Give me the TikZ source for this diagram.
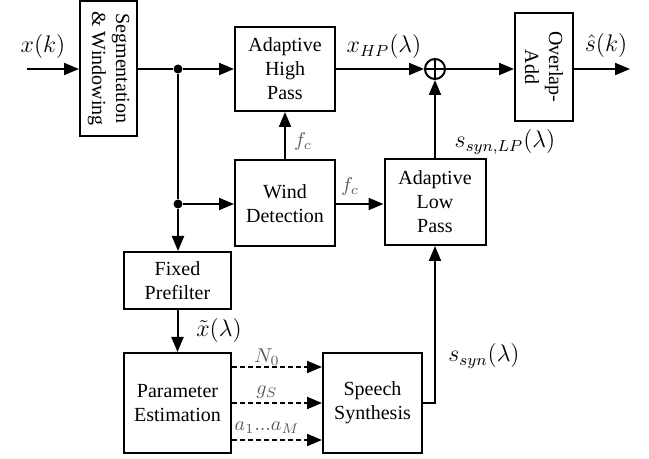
\documentclass[tikz,border=0pt]{standalone}
\usepackage{fontspec}
\setmainfont{Liberation Serif}
\usetikzlibrary{arrows.meta}
\definecolor{lblgray}{gray}{0.35}
\begin{document}
\begin{tikzpicture}[x=0.5pt,y=-0.5pt,
  blk/.style={draw, line width=1pt, inner sep=0pt, align=center, font=\normalsize},
  sig/.style={line width=1pt, -{Triangle[length=7.5pt,width=6pt]}},
  wire/.style={line width=1pt},
  dsig/.style={line width=1pt, dash pattern=on 2.5pt off 1.5pt, -{Triangle[length=7.5pt,width=6pt]}},
  big/.style={font=\large, inner sep=0.5pt},
  small/.style={font=\normalsize, text=lblgray, inner sep=0.5pt},
  dot/.style={circle, fill, inner sep=0pt, minimum size=4.5pt}]
\useasboundingbox (0,0) rectangle (649,459);

\node[blk, minimum width=28.5pt, minimum height=67.5pt] (seg) at (108.5,68.5) {};
\node[rotate=-90, align=center, font=\normalsize, inner sep=0pt] (segtxt) at (seg.center) {Segmentation\\\& Windowing};
\node[blk, minimum width=50pt, minimum height=42pt] (hp) at (285,69) {Adaptive\\High\\Pass};
\node[blk, minimum width=50pt, minimum height=43pt] (wind) at (285,203.5) {Wind\\Detection};
\node[blk, minimum width=50.5pt, minimum height=43pt] (lp) at (435,202) {Adaptive\\Low\\Pass};
\node[blk, minimum width=29pt, minimum height=54pt] (ola) at (544,67) {};
\node[rotate=-90, align=center, font=\normalsize, inner sep=0pt] (olatxt) at (ola.center) {Overlap-\\Add};
\node[blk, minimum width=53.5pt, minimum height=28.5pt] (pre) at (177.5,280.5) {Fixed\\Prefilter};
\node[blk, minimum width=53.5pt, minimum height=50pt] (par) at (177.5,403) {Parameter\\Estimation};
\node[blk, minimum width=49.5pt, minimum height=50pt] (syn) at (372.5,403) {Speech\\Synthesis};
\node[draw, circle, line width=1pt, minimum size=10pt, inner sep=0pt] (sum) at (435,69) {};
\draw[wire] (sum.north) -- (sum.south) (sum.west) -- (sum.east);

\coordinate (in) at (27,69);
\coordinate (out) at (630,69);
\node[dot] (j1) at (178,69) {};
\node[dot] (j2) at (178,204) {};

\draw[sig] (in) -- (seg.west |- in);
\draw[wire] (seg.east |- j1) -- (j1);
\draw[sig] (j1) -- (hp.west |- j1);
\draw[wire] (j1) -- (j2);
\draw[sig] (j2) -- (pre.north -| j2);
\draw[sig] (j2) -- (wind.west |- j2);
\draw[sig] (wind.north) -- (hp.south);
\draw[sig] (wind.east |- j2) -- (lp.west |- j2);
\draw[sig] (hp.east |- sum) -- (sum.west);
\draw[sig] (lp.north) -- (sum.south);
\draw[sig] (sum.east) -- (ola.west |- sum);
\draw[sig] (ola.east |- sum) -- (out);
\draw[sig] (pre.south) -- (par.north);
\draw[dsig] (par.east |- 0,367) -- (syn.west |- 0,367);
\draw[dsig] (par.east |- 0,403) -- (syn.west |- 0,403);
\draw[dsig] (par.east |- 0,440) -- (syn.west |- 0,440);
\draw[sig] (syn.east) -| (lp.south);

\node[big] (lx) at (43,47) {$x(k)$};
\node[big] (lxhp) at (384,47) {$x_{HP}(\lambda)$};
\node[big] (lsh) at (606,46) {$\hat{s}(k)$};
\node[small] (lfc1) at (303,142) {$f_c$};
\node[small] (lfc2) at (350,187) {$f_c$};
\node[big] (lslp) at (505,142) {$s_{syn,LP}(\lambda)$};
\node[big] (lxt) at (219,331) {$\tilde{x}(\lambda)$};
\node[small] (ln0) at (267,357) {$N_0$};
\node[small] (lgs) at (267,392) {$g_S$};
\node[small] (la) at (267,428) {$a_1 ... a_M$};
\node[big] (lss) at (484,356) {$s_{syn}(\lambda)$};
\end{tikzpicture}
\end{document}
